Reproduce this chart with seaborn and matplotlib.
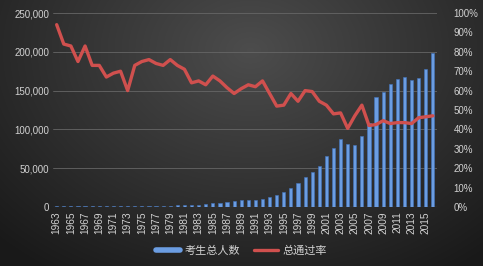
import numpy as np
import pandas as pd
import matplotlib
matplotlib.use("Agg")
import matplotlib.pyplot as plt
from matplotlib.lines import Line2D
import seaborn as sns

years = list(range(1963, 2017))
candidates = [
    1200, 1300, 1500, 1400, 1600, 1300, 1200, 1100, 1000, 1000,   # 1963-1972
    1100, 1200, 1300, 1400, 1500, 1600, 1800, 2000, 2200, 2500,   # 1973-1982
    3000, 3500, 4800, 4800, 6800, 7500, 8500, 9000, 9500, 10000,  # 1983-1992
    13300, 15000, 19700, 24100, 30500, 38700, 45500, 53000, 65700, 75600,  # 1993-2002
    87200, 81200, 79900, 91000, 108000, 142000, 148600, 158500, 164600, 167900,  # 2003-2012
    163700, 165800, 177400, 198000,                                # 2013-2016
]
pass_rate = [
    94, 84, 83, 75, 83, 73, 73, 67, 69, 70,        # 1963-1972
    60, 73, 75, 76, 74, 73, 76, 73, 71, 64,        # 1973-1982
    65, 63, 67.5, 65, 61.5, 58.5, 61, 63, 62, 65,  # 1983-1992
    58.5, 52, 52.5, 58.5, 54.5, 60, 59.5, 54.5, 52.5, 48,  # 1993-2002
    48.5, 40.5, 47, 52.5, 42, 42.5, 44.5, 43, 43.5, 43.5,  # 2003-2012
    43, 46, 46.5, 47,                              # 2013-2016
]
left_ticks = [0, 50000, 100000, 150000, 200000, 250000]
right_ticks = [0, 10, 20, 30, 40, 50, 60, 70, 80, 90, 100]
legend_labels = ["考生总人数", "总通过率"]

df = pd.DataFrame({"year": years, "count": candidates, "rate": pass_rate})

sns.set_theme(style="white")
plt.rcParams["font.family"] = ["Liberation Sans", "Noto Sans CJK SC", "DejaVu Sans"]
txt = "#d2d2d2"

fig = plt.figure(figsize=(4.83, 2.66), dpi=100)

# background gradient
bg = fig.add_axes([0, 0, 1, 1], zorder=-10)
yy, xx = np.mgrid[0:266, 0:483]
d = np.sqrt(((xx - 250) / 320.0) ** 2 + ((yy - 50) / 240.0) ** 2)
val = np.clip(0.30 - 0.18 * d, 0.10, 0.31)
img = np.dstack([val, val, val])
bg.imshow(img, aspect="auto", extent=[0, 1, 0, 1])
bg.axis("off")

ax = fig.add_axes([0.110, 0.222, 0.795, 0.729])
ax.set_facecolor("none")
sns.barplot(data=df, x="year", y="count", native_scale=True, width=0.45,
            color="#6b9de2", edgecolor="#4274bd", linewidth=0.4, ax=ax,
            saturation=1, zorder=2)
ax.set_ylim(0, 250000)
ax.set_xlim(1962.5, 2016.6)
ax.set_yticks(left_ticks)
ax.set_yticklabels([f"{v:,}" for v in left_ticks], color=txt, fontsize=7)
ax.set_xticks(years[::2])
ax.set_xticklabels([str(y) for y in years[::2]], rotation=90, color=txt, fontsize=7.3)
for v in left_ticks[1:]:
    ax.axhline(v, color="#666666", lw=0.6, zorder=0)
ax.axhline(0, color="#9a9a9a", lw=0.8, zorder=3)
ax.set_xlabel("")
ax.set_ylabel("")
ax.tick_params(axis="both", length=0, pad=3)
for s in ax.spines.values():
    s.set_visible(False)

ax2 = ax.twinx()
sns.lineplot(data=df, x="year", y="rate", color="#d0504e", lw=2.4, ax=ax2, zorder=4)
ax2.set_ylim(0, 100)
ax2.set_yticks(right_ticks)
ax2.set_yticklabels([f"{v}%" for v in right_ticks], color=txt, fontsize=7)
ax2.set_ylabel("")
ax2.tick_params(axis="y", length=0, pad=12)
for s in ax2.spines.values():
    s.set_visible(False)

handles = [Line2D([0], [0], color="#6b9de2", lw=4),
           Line2D([0], [0], color="#d0504e", lw=2.4)]
leg = fig.legend(handles, legend_labels, loc="lower center", bbox_to_anchor=(0.5, 0.0),
                 ncol=2, frameon=False, fontsize=8, handlelength=2.2,
                 columnspacing=1.2, handletextpad=0.4)
for t in leg.get_texts():
    t.set_color(txt)

fig.savefig("out.png", dpi=100)
